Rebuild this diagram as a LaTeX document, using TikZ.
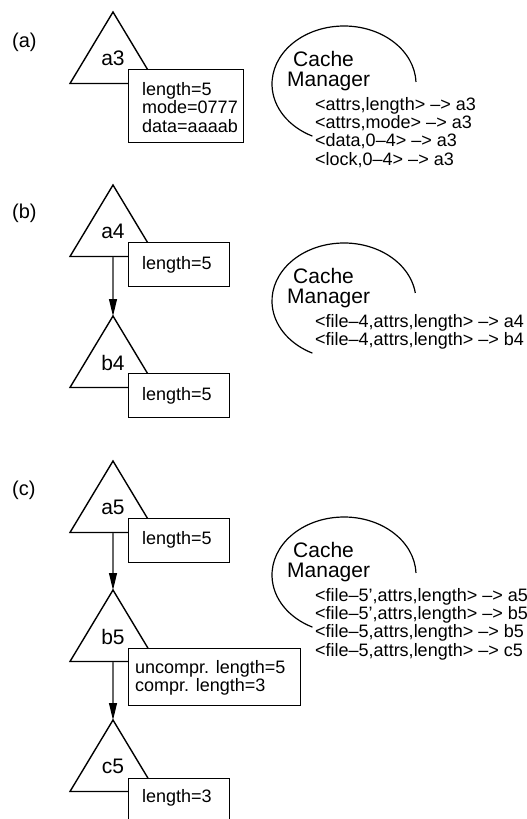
\documentclass[tikz,border=0pt]{standalone}
\usepackage{fontspec}
\setmainfont{Liberation Sans}
\usetikzlibrary{arrows.meta}

% left-aligned block whose baseline is the baseline of its first line
\newcommand\stack[1]{\begin{tabular}[t]{@{}l@{}}#1\end{tabular}}

\tikzset{
  tri/.style={draw=black, line width=1.4pt, line join=miter},
  infobox/.style={draw=black, line width=0.9pt, fill=white, anchor=north west, inner sep=0pt},
  boxtext/.style={anchor=base west, inner sep=0pt, font=\fontsize{18}{18.3}\selectfont},
  listtext/.style={anchor=base west, inner sep=0pt, font=\fontsize{18}{17.8}\selectfont},
  trilabel/.style={inner sep=0pt, font=\fontsize{21}{21}\selectfont},
  partlabel/.style={anchor=west, inner sep=0pt, font=\fontsize{20}{20}\selectfont},
  cmtitle/.style={anchor=base west, inner sep=0pt, font=\fontsize{21}{19}\selectfont},
  cmarc/.style={draw=black, line width=1.2pt},
  link/.style={draw=black!60, line width=1.1pt,
    -{Triangle[length=17pt,width=8pt,color=black]}}
}

% version triangle: name, label, y of apex
\newcommand\versiontri[3]{%
  \coordinate (#1-top) at (113,#3);
  \coordinate (#1-base) at (113,#3+71.5);
  \draw[tri] (#1-top) -- ++(-43,71.5) -- ++(86,0) -- cycle;
  \node[trilabel] (#1) at (113,#3+46.5) {#2};
}

% cache manager: name, vertical offset, start angle of the arc, entries
\newcommand\cachemgr[4]{%
  \draw[cmarc] (344,84+#2) ++(#3:72pt and 58pt)
    arc[start angle=#3, end angle=244, x radius=72pt, y radius=58pt];
  \node[cmtitle] (#1-title) at (287,66+#2) {\stack{\hspace{6pt}Cache\\Manager}};
  \node[listtext] (#1-map) at (315,110+#2) {\stack{#4}};
}

\begin{document}
\begin{tikzpicture}[x=1pt,y=-1pt]
\clip (0,0) rectangle (527,819);
\useasboundingbox (0,0) rectangle (527,819);
\fill[white] (0,0) rectangle (527,819);

% ---------- (a) ----------
\node[partlabel] (lblA) at (12,42) {(a)};
\versiontri{a3}{a3}{12}
\node[infobox, minimum width=115pt, minimum height=73pt] (a3box) at (128,69) {};
\node[boxtext] (a3txt) at (142,95) {\stack{length=5\\mode=0777\\data=aaaab}};
\cachemgr{cmA}{0}{2}{<attrs,length> –> a3\\<attrs,mode> –> a3\\<data,0–4> –> a3\\<lock,0–4> –> a3}

% ---------- (b) ----------
\node[partlabel] (lblB) at (12,213) {(b)};
\versiontri{a4}{a4}{185}
\versiontri{b4}{b4}{316}
\node[infobox, minimum width=101pt, minimum height=44pt] (a4box) at (128,242) {};
\node[boxtext] (a4txt) at (142,269) {length=5};
\node[infobox, minimum width=101pt, minimum height=44pt] (b4box) at (128,373) {};
\node[boxtext] (b4txt) at (142,400) {length=5};
\draw[link] (a4-base) -- (b4-top);
\cachemgr{cmB}{217}{8}{<file–4,attrs,length> –> a4\\<file–4,attrs,length> –> b4}

% ---------- (c) ----------
\node[partlabel] (lblC) at (12,490) {(c)};
\versiontri{a5}{a5}{461}
\versiontri{b5}{b5}{590}
\versiontri{c5}{c5}{720}
\node[infobox, minimum width=101pt, minimum height=44pt] (a5box) at (128,518) {};
\node[boxtext] (a5txt) at (142,544) {length=5};
\node[infobox, minimum width=172pt, minimum height=57pt] (b5box) at (128,648) {};
\node[boxtext, font=\fontsize{18}{17}\selectfont] (b5txt) at (135,673) {\stack{uncompr. length=5\\compr. length=3}};
\node[infobox, minimum width=101pt, minimum height=44pt] (c5box) at (128,778) {};
\node[boxtext] (c5txt) at (142,802) {length=3};
\draw[link] (a5-base) -- (b5-top);
\draw[link] (b5-base) -- (c5-top);
\cachemgr{cmC}{491}{2}{<file–5’,attrs,length> –> a5\\<file–5’,attrs,length> –> b5\\<file–5,attrs,length> –> b5\\<file–5,attrs,length> –> c5}
\end{tikzpicture}
\end{document}
